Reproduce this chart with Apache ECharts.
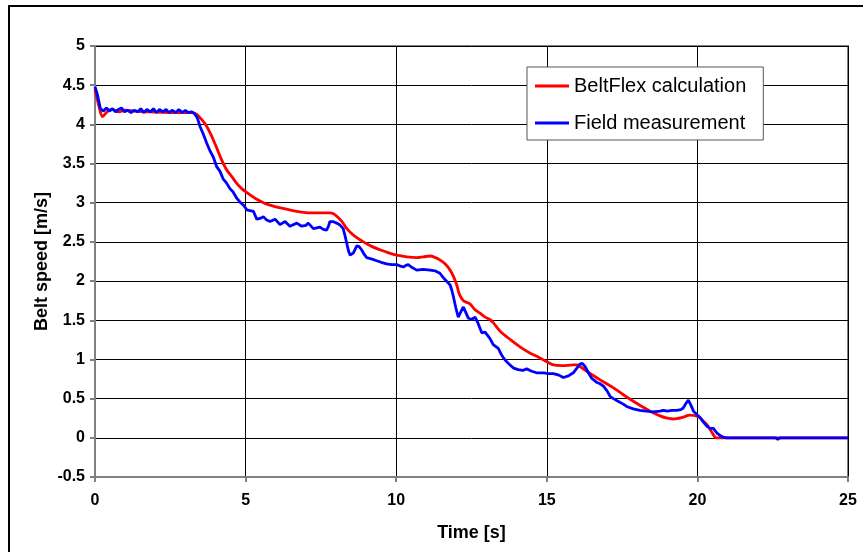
<!DOCTYPE html>
<html><head><meta charset="utf-8">
<script src="https://cdn.jsdelivr.net/npm/echarts@6/dist/echarts.min.js"></script>
<style>html,body{margin:0;padding:0;background:#fff}#c{width:863px;height:552px}</style>
</head><body><div id="c"></div>
<script>
const calcTime = [0,0.12,0.25,0.4,0.55,0.8,1.0,1.3,1.7,2.5,3.0,3.2,3.37,3.5,3.65,3.85,4.04,4.2,4.37,4.55,4.7,4.87,5.04,5.3,5.59,5.81,6.2,6.7,7.2,7.6,7.8,7.92,8.02,8.2,8.36,8.6,8.91,9.2,9.46,9.75,10.02,10.35,10.68,10.9,11.12,11.3,11.45,11.62,11.79,11.9,12.01,12.1,12.23,12.45,12.6,12.78,12.95,13.11,13.22,13.45,13.8,14.11,14.45,14.77,15.0,15.22,15.5,15.88,16.0,16.1,16.4,16.77,17.2,17.54,17.9,18.2,18.43,18.76,19.0,19.2,19.5,19.75,20.03,20.15,20.31,20.45,20.58,20.65,25];
const calcSpeed = [4.45,4.25,4.10,4.16,4.19,4.16,4.18,4.17,4.16,4.15,4.15,4.15,4.13,4.08,4.01,3.87,3.70,3.55,3.42,3.33,3.25,3.18,3.13,3.06,3.00,2.97,2.93,2.89,2.87,2.87,2.87,2.86,2.83,2.76,2.67,2.58,2.50,2.44,2.40,2.36,2.33,2.31,2.30,2.31,2.32,2.30,2.27,2.22,2.14,2.06,1.95,1.83,1.75,1.71,1.64,1.59,1.54,1.51,1.47,1.36,1.25,1.16,1.08,1.02,0.97,0.93,0.92,0.93,0.93,0.91,0.83,0.74,0.64,0.55,0.46,0.39,0.34,0.28,0.25,0.24,0.26,0.29,0.27,0.23,0.17,0.09,0.01,0,0];
const measTime = [0,0.08,0.18,0.28,0.38,0.48,0.58,0.68,0.78,0.88,0.98,1.08,1.2,1.3,1.42,1.52,1.62,1.72,1.84,1.94,2.04,2.14,2.26,2.36,2.46,2.56,2.68,2.78,2.9,3.0,3.1,3.2,3.3,3.4,3.49,3.6,3.71,3.82,3.93,4.04,4.15,4.26,4.37,4.48,4.58,4.7,4.81,4.93,5.04,5.15,5.26,5.37,5.48,5.59,5.7,5.81,5.98,6.14,6.31,6.47,6.58,6.7,6.86,7.0,7.08,7.25,7.36,7.47,7.58,7.69,7.75,7.8,7.9,8.02,8.12,8.24,8.3,8.36,8.42,8.47,8.58,8.69,8.77,8.85,8.94,9.02,9.2,9.35,9.5,9.68,9.85,10.02,10.15,10.24,10.32,10.4,10.5,10.68,10.9,11.12,11.3,11.45,11.55,11.62,11.72,11.79,11.85,11.9,11.98,12.06,12.15,12.23,12.31,12.39,12.5,12.62,12.72,12.84,12.95,13.0,13.11,13.22,13.39,13.48,13.56,13.67,13.78,13.9,14.05,14.2,14.33,14.5,14.66,14.9,15.05,15.22,15.4,15.55,15.72,15.88,16.0,16.1,16.18,16.27,16.38,16.49,16.65,16.77,16.88,17.0,17.1,17.21,17.35,17.54,17.65,17.87,18.09,18.3,18.53,18.76,18.87,19.0,19.15,19.31,19.45,19.53,19.62,19.7,19.78,19.87,20.0,20.09,20.2,20.31,20.42,20.53,20.65,20.75,20.85,20.97,21.5,22.0,22.6,22.67,22.74,23.5,24.2,25];
const measSpeed = [4.48,4.38,4.20,4.17,4.21,4.17,4.20,4.16,4.19,4.21,4.16,4.18,4.15,4.18,4.16,4.20,4.15,4.19,4.16,4.20,4.15,4.19,4.16,4.19,4.15,4.18,4.15,4.19,4.15,4.18,4.15,4.16,4.14,4.08,3.97,3.87,3.76,3.66,3.58,3.46,3.40,3.30,3.25,3.18,3.14,3.06,3.01,2.97,2.91,2.90,2.89,2.79,2.80,2.82,2.78,2.76,2.79,2.72,2.76,2.70,2.72,2.74,2.70,2.71,2.74,2.67,2.68,2.69,2.66,2.65,2.70,2.76,2.76,2.74,2.72,2.67,2.58,2.48,2.38,2.33,2.36,2.45,2.44,2.40,2.34,2.30,2.28,2.26,2.24,2.22,2.21,2.21,2.19,2.18,2.20,2.21,2.18,2.14,2.15,2.14,2.13,2.10,2.05,2.02,1.98,1.95,1.88,1.80,1.66,1.54,1.61,1.67,1.60,1.53,1.51,1.54,1.46,1.34,1.35,1.36,1.27,1.19,1.14,1.07,1.02,0.97,0.93,0.89,0.87,0.86,0.88,0.85,0.83,0.83,0.82,0.82,0.80,0.77,0.79,0.83,0.89,0.94,0.95,0.91,0.83,0.76,0.71,0.69,0.66,0.60,0.53,0.50,0.47,0.43,0.40,0.37,0.35,0.34,0.33,0.34,0.35,0.34,0.35,0.35,0.36,0.38,0.44,0.48,0.42,0.34,0.29,0.26,0.20,0.15,0.12,0.12,0.06,0.03,0.01,0.0,0.0,0.0,0.0,-0.02,0.0,0.0,0.0,0.0];
const seriesNames = ['BeltFlex calculation','Field measurement'];
const xTitle = 'Time [s]';
const yTitle = 'Belt speed [m/s]';

const zip = (a,b) => a.map((t,i)=>[t,b[i]]);
const FONT = 'Arial, "Liberation Sans", sans-serif';
const chart = echarts.init(document.getElementById('c'), null, {renderer:'canvas'});
chart.setOption({
  animation:false,
  backgroundColor:'#fff',
  graphic:[{type:'rect',shape:{x:9,y:6,width:900,height:600},style:{fill:'none',stroke:'#000',lineWidth:2},silent:true,z:0}],
  grid:{left:95,top:46,width:753,height:431,show:true,borderColor:'#808080',borderWidth:2,backgroundColor:'transparent'},
  legend:{orient:'vertical',left:527,top:67,padding:[9,17,7,8],itemGap:17,itemWidth:34,itemHeight:3,
    backgroundColor:'#fff',borderColor:'#555',borderWidth:1,borderRadius:0,
    textStyle:{fontFamily:FONT,fontSize:20,color:'#000'},
    data:seriesNames.map(n=>({name:n,icon:'rect'}))},
  xAxis:{type:'value',min:0,max:25,interval:5,
    name:xTitle,nameLocation:'middle',nameGap:47,nameTextStyle:{fontFamily:FONT,fontSize:18,fontWeight:'bold',color:'#000'},
    axisLine:{show:true,onZero:false,lineStyle:{color:'#808080',width:2}},
    axisTick:{show:true,length:5,lineStyle:{color:'#808080',width:2}},
    axisLabel:{fontFamily:FONT,fontSize:16,fontWeight:'bold',color:'#000',margin:16},
    splitLine:{show:true,lineStyle:{color:'#000',width:1}}},
  yAxis:{type:'value',min:-0.5,max:5,interval:0.5,
    name:yTitle,nameLocation:'middle',nameGap:44,nameMoveOverlap:false,nameRotate:90,nameTextStyle:{fontFamily:FONT,fontSize:18,fontWeight:'bold',color:'#000'},
    axisLine:{show:true,onZero:false,lineStyle:{color:'#808080',width:2}},
    axisTick:{show:true,length:5,lineStyle:{color:'#808080',width:2}},
    axisLabel:{fontFamily:FONT,fontSize:16,fontWeight:'bold',color:'#000',margin:10},
    splitLine:{show:true,lineStyle:{color:'#000',width:1}}},
  series:[
    {name:seriesNames[0],type:'line',data:zip(calcTime,calcSpeed),symbol:'none',smooth:0.3,lineStyle:{color:'#ff0000',width:2.8},itemStyle:{color:'#ff0000'},z:3},
    {name:seriesNames[1],type:'line',data:zip(measTime,measSpeed),symbol:'none',lineStyle:{color:'#0000ff',width:2.8},itemStyle:{color:'#0000ff'},z:4}
  ]
});
</script></body></html>
